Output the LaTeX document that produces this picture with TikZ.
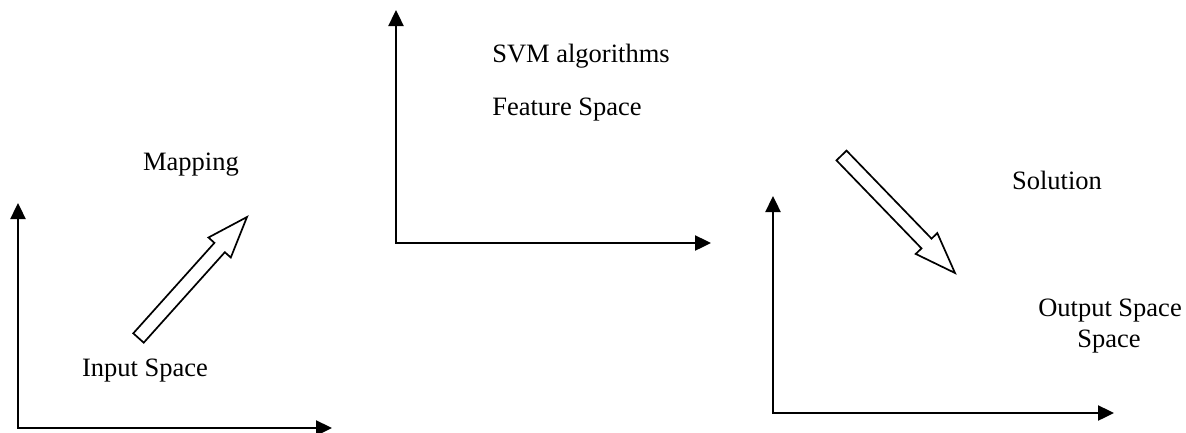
\documentclass[tikz,border=0pt]{standalone}
\usepackage{fontspec}
\setmainfont{Liberation Serif}
\usetikzlibrary{arrows.meta,calc}
\newcommand{\hollowarrow}[2]{%
  \coordinate (#1hb) at ($(#2)!41pt!(#1)$);
  \draw[blockarrow]
    ($(#1)!7pt!90:(#2)$) --
    ($(#1hb)!7pt!90:(#2)$) --
    ($(#1hb)!15pt!90:(#2)$) --
    (#2) --
    ($(#1hb)!15pt!-90:(#2)$) --
    ($(#1hb)!7pt!-90:(#2)$) --
    ($(#1)!7pt!-90:(#2)$) -- cycle;
}
\begin{document}
\begin{tikzpicture}[x=1pt,y=-1pt,
  axis/.style={line width=2.4pt, line cap=rect, -{Triangle[length=16pt,width=15pt]}},
  txt/.style={font=\fontsize{26.5}{31}\selectfont, inner sep=0pt, anchor=base},
  blockarrow/.style={draw, line width=1.7pt, fill=white, line join=miter}]
\useasboundingbox (0,0) rectangle (1186,432);

% left axes (input space)
\coordinate (o1) at (18,428);
\coordinate (y1) at (18,203);
\coordinate (x1) at (332,428);
\draw[axis] (o1) -- (y1);
\draw[axis] (o1) -- (x1);

% middle axes (feature space)
\coordinate (o2) at (396,243);
\coordinate (y2) at (396,10);
\coordinate (x2) at (711,243);
\draw[axis] (o2) -- (y2);
\draw[axis] (o2) -- (x2);

% right axes (output space)
\coordinate (o3) at (773,413);
\coordinate (y3) at (773,196);
\coordinate (x3) at (1114,413);
\draw[axis] (o3) -- (y3);
\draw[axis] (o3) -- (x3);

% block arrows
\coordinate (m1) at (138.5,338);
\coordinate (m1t) at (247,217);
\hollowarrow{m1}{m1t}
\coordinate (s1) at (841.5,155.5);
\coordinate (s1t) at (955,273);
\hollowarrow{s1}{s1t}

% labels
\node[txt] (mapping) at (191,170) {Mapping};
\node[txt] (input) at (145,376) {Input Space};
\node[txt] (svm) at (581,62) {SVM algorithms};
\node[txt] (feature) at (567,115) {Feature Space};
\node[txt] (solution) at (1057,189) {Solution};
\node[txt] (output) at (1110,316) {Output Space};
\node[txt] (space) at (1109,347) {Space};
\end{tikzpicture}
\end{document}
